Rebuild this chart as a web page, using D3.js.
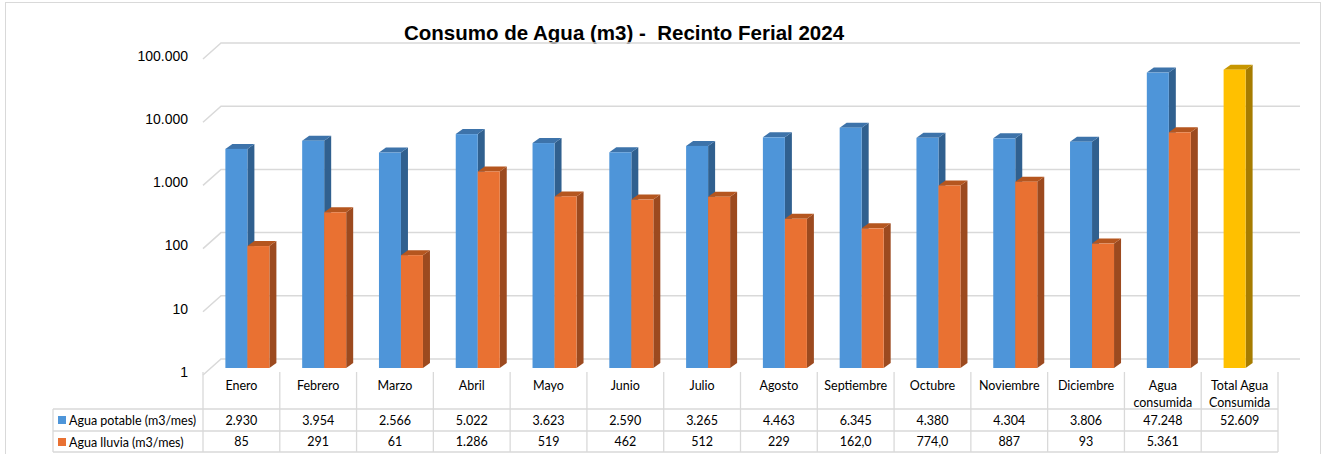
<!DOCTYPE html>
<html lang="es">
<head>
<meta charset="UTF-8">
<title>Consumo de Agua</title>
<script src="https://d3js.org/d3.v7.min.js"></script>
<style>
  body { margin: 0; background: #fff; }
  .axis-label { font: 14px 'Liberation Sans', Arial, sans-serif; fill: #000; }
  .cell { font: 12.5px Lato, 'Noto Sans', sans-serif; fill: #000; }
  .grid { stroke: #d9d9d9; stroke-width: 1.5; fill: none; }
  .tbl { stroke: #d9d9d9; stroke-width: 1.3; fill: none; }
</style>
</head>
<body>
<div id="chart"></div>
<script>
const categories = ["Enero", "Febrero", "Marzo", "Abril", "Mayo", "Junio", "Julio", "Agosto",
  "Septiembre", "Octubre", "Noviembre", "Diciembre", "Agua\nconsumida", "Total Agua\nConsumida"];
const potable = [2930, 3954, 2566, 5022, 3623, 2590, 3265, 4463, 6345, 4380, 4304, 3806, 47248, 52609];
const lluvia = [85, 291, 61, 1286, 519, 462, 512, 229, 162, 774, 887, 93, 5361, null];
const lluviaDecimals = [0, 0, 0, 0, 0, 0, 0, 0, 1, 1, 0, 0, 0, 0];
const seriesNames = ["Agua potable (m3/mes)", "Agua lluvia (m3/mes)"];
const yTicks = [1, 10, 100, 1000, 10000, 100000];

const W = 1326, H = 454;
const loc = d3.formatLocale({decimal: ",", thousands: ".", grouping: [3], currency: ["", ""]});
const fmt0 = loc.format(",.0f"), fmt1 = loc.format(",.1f");

const svg = d3.select("#chart").append("svg").attr("width", W).attr("height", H);

// chart frame
svg.append("rect").attr("x", 5.5).attr("y", 2.5).attr("width", 1315).attr("height", 470)
  .attr("fill", "none").attr("stroke", "#d9d9d9");

// title
svg.append("text").attr("x", 624).attr("y", 40).attr("text-anchor", "middle")
  .style("font", "bold 20.5px 'Liberation Sans', Arial, sans-serif")
  .style("white-space", "pre")
  .text("Consumo de Agua (m3) -  Recinto Ferial 2024");

// scales (front plane)
const x = d3.scaleBand().domain(categories).range([203, 1278]);
const x1 = d3.scaleBand().domain(["potable", "lluvia"]).range([0, x.bandwidth()]).paddingOuter(0.745);
const y = d3.scaleLog().domain([1, 100000]).range([375, 59]);
const back = {dx: 18, dy: -16};   // back wall offset
const mid = {dx: 6, dy: -7};      // plane where the bars stand
const depth = {dx: 7, dy: -5};    // bar thickness

// gridlines on back wall + left wall diagonals
const grid = svg.append("g");
yTicks.forEach(t => {
  const yf = y(t);
  grid.append("path").attr("class", "grid")
    .attr("d", `M203,${yf}L${203 + back.dx},${yf + back.dy}L${1278 + back.dx + 4},${yf + back.dy}`);
  grid.append("text").attr("class", "axis-label").attr("x", 188).attr("y", yf - 2)
    .attr("text-anchor", "end").attr("dominant-baseline", "middle")
    .text(loc.format(",")(t));
});

// bars
const colors = {
  potable: {front: "#4e95d9", side: "#30608f", top: "#3d73aa"},
  lluvia: {front: "#e97132", side: "#9c4a1f", top: "#b5561f"},
  total: {front: "#ffc000", side: "#a67c00", top: "#c79600"}
};
const bars = [];
categories.forEach((c, i) => {
  bars.push({cat: c, key: "potable", v: potable[i], col: i === categories.length - 1 ? colors.total : colors.potable});
  if (lluvia[i] != null) bars.push({cat: c, key: "lluvia", v: lluvia[i], col: colors.lluvia});
});

const bw = x1.bandwidth();
const barG = svg.append("g").selectAll("g").data(bars).join("g");
barG.each(function(d) {
  const g = d3.select(this);
  const x0 = x(d.cat) + x1(d.key) + mid.dx;
  const yTop = y(d.v) + mid.dy;
  const yBot = y(1) + mid.dy;
  g.append("path").attr("fill", d.col.side)
    .attr("d", `M${x0 + bw},${yTop}L${x0 + bw + depth.dx},${yTop + depth.dy}L${x0 + bw + depth.dx},${yBot + depth.dy}L${x0 + bw},${yBot}Z`);
  g.append("path").attr("fill", d.col.top)
    .attr("d", `M${x0},${yTop}L${x0 + depth.dx},${yTop + depth.dy}L${x0 + bw + depth.dx},${yTop + depth.dy}L${x0 + bw},${yTop}Z`);
  g.append("rect").attr("x", x0).attr("y", yTop).attr("width", bw).attr("height", yBot - yTop)
    .attr("fill", d.col.front);
});

// data table
const tTop = 372, r1 = 409, r2 = 431, r3 = 452, tLeft = 53;
const tbl = svg.append("g");
x.domain().concat([null]).forEach((c, i) => {
  const xx = c ? x(c) : x.range()[1];
  tbl.append("line").attr("class", "tbl").attr("x1", xx).attr("x2", xx).attr("y1", tTop).attr("y2", r3);
});
tbl.append("line").attr("class", "tbl").attr("x1", tLeft).attr("x2", tLeft).attr("y1", r1).attr("y2", r3);
[r1, r2, r3].forEach(r => tbl.append("line").attr("class", "tbl")
  .attr("x1", tLeft).attr("x2", x.range()[1]).attr("y1", r).attr("y2", r));

categories.forEach((c, i) => {
  const cx = x(c) + x.bandwidth() / 2;
  const t = tbl.append("text").attr("class", "cell").attr("text-anchor", "middle");
  c.split("\n").forEach((ln, k) => t.append("tspan").attr("x", cx).attr("y", 390 + k * 16.5).text(ln));
  tbl.append("text").attr("class", "cell").attr("text-anchor", "middle").attr("x", cx).attr("y", 424.5)
    .text(fmt0(potable[i]));
  if (lluvia[i] != null)
    tbl.append("text").attr("class", "cell").attr("text-anchor", "middle").attr("x", cx).attr("y", 446)
      .text(lluviaDecimals[i] ? fmt1(lluvia[i]) : fmt0(lluvia[i]));
});

// legend keys in the table
[colors.potable.front, colors.lluvia.front].forEach((col, k) => {
  const ry = k === 0 ? r1 : r2;
  tbl.append("rect").attr("x", 58).attr("y", ry + 7).attr("width", 8).attr("height", 8).attr("fill", col);
  tbl.append("text").attr("class", "cell").attr("x", 69).attr("y", ry + 15.5).text(seriesNames[k]);
});
</script>
</body>
</html>
